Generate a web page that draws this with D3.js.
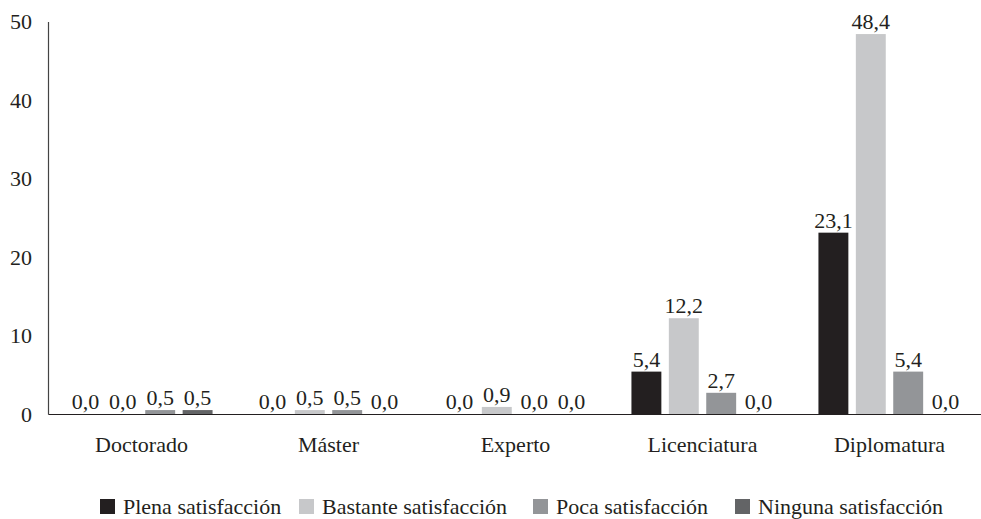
<!DOCTYPE html>
<html><head><meta charset="utf-8">
<script src="https://cdn.jsdelivr.net/npm/d3@7"></script>
<style>body{margin:0;background:#fff}svg{display:block}</style>
</head><body>
<svg id="c" width="981" height="519"></svg>
<script>
const categories = ["Doctorado","Máster","Experto","Licenciatura","Diplomatura"];
const seriesNames = ["Plena satisfacción","Bastante satisfacción","Poca satisfacción","Ninguna satisfacción"];
const plena    = [0.0, 0.0, 0.0, 5.4, 23.1];
const bastante = [0.0, 0.5, 0.9, 12.2, 48.4];
const poca     = [0.5, 0.5, 0.0, 2.7, 5.4];
const ninguna  = [0.5, 0.0, 0.0, 0.0, 0.0];
const yTicks = [0,10,20,30,40,50];
const colors = ["#231f20","#c7c8ca","#939598","#636466"];

const series = [plena, bastante, poca, ninguna];
const svg = d3.select("#c");
const font = "'Liberation Serif', 'DejaVu Serif', serif";
const fs = 22;

const y = d3.scaleLinear().domain([0,50]).range([414, 21.5]);
const x0 = d3.scaleBand().domain(categories).range([48, 983]).paddingInner(0.24).paddingOuter(0.12);
const x1 = d3.scaleBand().domain(d3.range(4)).range([0, x0.bandwidth()]).paddingInner(0.2);

// y axis
const yAxis = svg.append("g").attr("transform","translate(48,0)")
  .call(d3.axisLeft(y).tickValues(yTicks).tickSize(0).tickPadding(16).tickFormat(d3.format("d")));
yAxis.select(".domain").attr("stroke","#444").attr("stroke-width",1.2);
yAxis.selectAll("text").attr("font-family",font).attr("font-size",fs).attr("fill","#231f20");

// bars
categories.forEach((c,i)=>{
  const g = svg.append("g").attr("transform",`translate(${x0(c)},0)`);
  series.forEach((s,j)=>{
    const v = s[i];
    g.append("rect").attr("x",x1(j)).attr("width",x1.bandwidth())
      .attr("y",y(v)).attr("height",y(0)-y(v)).attr("fill",colors[j]);
    g.append("text").attr("x",x1(j)+x1.bandwidth()/2).attr("y",y(v)-5)
      .attr("text-anchor","middle").attr("font-family",font).attr("font-size",fs).attr("fill","#231f20")
      .text(d3.format(".1f")(v).replace(".",","));
  });
});

// x axis
const xAxis = svg.append("g").attr("transform","translate(0,414)")
  .call(d3.axisBottom(x0).tickSize(0).tickPadding(22));
xAxis.select(".domain").attr("stroke","#231f20").attr("stroke-width",1.2);
xAxis.selectAll("text").attr("font-family",font).attr("font-size",fs).attr("fill","#231f20");

// legend
const legendX = [100, 299, 533, 735];
const lg = svg.append("g");
seriesNames.forEach((n,j)=>{
  lg.append("rect").attr("x",legendX[j]).attr("y",499).attr("width",15).attr("height",15).attr("fill",colors[j]);
  lg.append("text").attr("x",legendX[j]+23).attr("y",514).attr("font-family",font).attr("font-size",fs)
    .attr("fill","#231f20").text(n);
});
</script>
</body></html>
